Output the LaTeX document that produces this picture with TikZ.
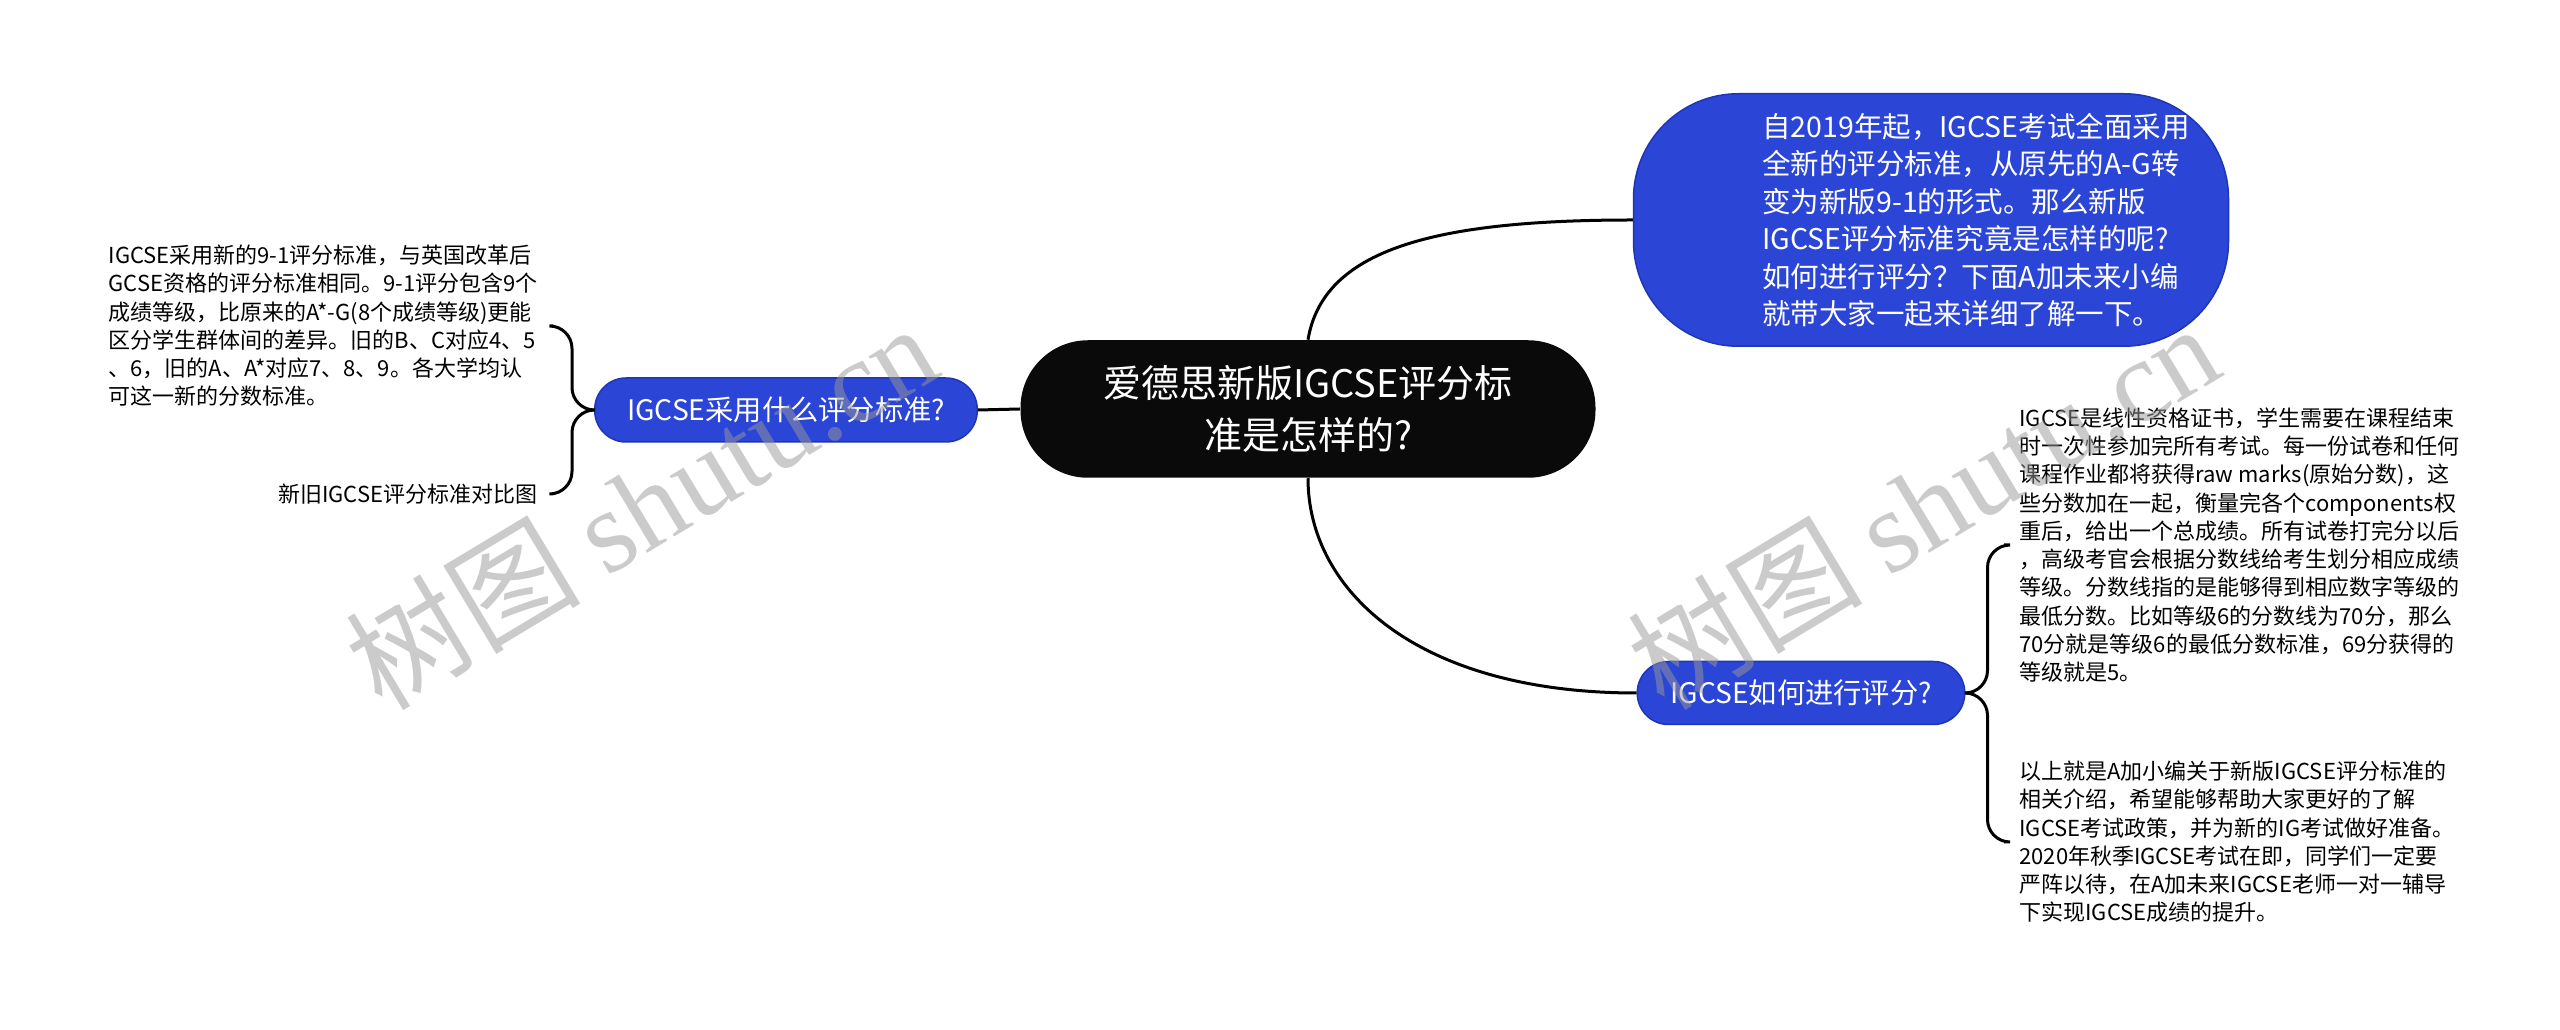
\documentclass[tikz,border=0pt]{standalone}
\usepackage{fontspec}
\setmainfont{Noto Sans CJK SC}
\newfontfamily\wmfont{Liberation Serif}
\usepackage{xcolor}
\definecolor{mapblue}{HTML}{2B45D7}
\definecolor{mapedge}{HTML}{1E35B5}
\definecolor{hubblack}{HTML}{0A0A0A}
\tikzset{
  hubnode/.style={fill=hubblack, text=white, rounded corners=27pt, minimum width=230pt,
    minimum height=55pt, align=center, font=\fontsize{15.2}{20.8}\selectfont},
  topicnode/.style={fill=mapblue, draw=mapedge, line width=0.6pt, text=white, align=center,
    font=\fontsize{11.3}{15}\selectfont},
  leafnode/.style={align=left, inner xsep=6pt, inner ysep=2pt, font=\fontsize{8.8}{11.3}\selectfont},
  link/.style={line width=1.2pt},
  wmark/.style={text=black!40, opacity=0.5, rotate=31, font=\fontsize{47}{47}\selectfont}
}

\begin{document}
\begin{tikzpicture}[x=0.4pt, y=-0.4pt]
        \useasboundingbox (0,0) rectangle (2560,1030);
        \fill[white] (0,0) rectangle (2560,1030);

        % Centre topic
        \node[hubnode] (hub) at (1308,409) {爱德思新版IGCSE评分标\\准是怎样的?};

        % Intro bubble, top right
        \node[topicnode, rounded corners=42pt, minimum width=238pt, minimum height=101pt] (intro) at (1931,220) {};
        \node[text=white, align=left, font=\fontsize{11.4}{15}\selectfont] (introtext) at ([xshift=18pt]intro.center)
          {自2019年起，IGCSE考试全面采用\\全新的评分标准，从原先的A-G转\\变为新版9-1的形式。那么新版\\IGCSE评分标准究竟是怎样的呢?\\如何进行评分？下面A加未来小编\\就带大家一起来详细了解一下。};

        % Left branch
        \node[topicnode, rounded corners=12.5pt, minimum width=153pt, minimum height=25.6pt] (q1) at (786,410) {IGCSE采用什么评分标准?};
        \node[leafnode, anchor=east] (d1) at (553,326)
          {IGCSE采用新的9-1评分标准，与英国改革后\\GCSE资格的评分标准相同。9-1评分包含9个\\成绩等级，比原来的A*-G(8个成绩等级)更能\\区分学生群体间的差异。旧的B、C对应4、5\\、6，旧的A、A*对应7、8、9。各大学均认\\可这一新的分数标准。};
        \node[leafnode, anchor=east] (d2) at (553,494) {新旧IGCSE评分标准对比图};

        % Right branch
        \node[topicnode, rounded corners=12.5pt, minimum width=131pt, minimum height=25.2pt] (q2) at (1801,693) {IGCSE如何进行评分?};
        \node[leafnode, anchor=west] (r1) at (2004,545)
          {IGCSE是线性资格证书，学生需要在课程结束\\时一次性参加完所有考试。每一份试卷和任何\\课程作业都将获得raw marks(原始分数)，这\\些分数加在一起，衡量完各个components权\\重后，给出一个总成绩。所有试卷打完分以后\\，高级考官会根据分数线给考生划分相应成绩\\等级。分数线指的是能够得到相应数字等级的\\最低分数。比如等级6的分数线为70分，那么\\70分就是等级6的最低分数标准，69分获得的\\等级就是5。};
        \node[leafnode, anchor=west] (r2) at (2004,842)
          {以上就是A加小编关于新版IGCSE评分标准的\\相关介绍，希望能够帮助大家更好的了解\\IGCSE考试政策，并为新的IG考试做好准备。\\2020年秋季IGCSE考试在即，同学们一定要\\严阵以待，在A加未来IGCSE老师一对一辅导\\下实现IGCSE成绩的提升。};

        % Connectors from the centre
        \draw[link] (hub.north) .. controls +(15,-90) and +(-200,0) .. (intro.west);
        \draw[link] (hub.south) .. controls +(0,112) and +(-220,0) .. (q2.west);
        \draw[link] (hub.west) -- (q1.east);

        % Brackets to the leaves
        \draw[link, rounded corners=9pt] (q1.west) -- ++(-22,0) |- (d1.east);
        \draw[link, rounded corners=9pt] (q1.west) -- ++(-22,0) |- (d2.east);
        \draw[link, rounded corners=9pt] (q2.east) -- ++(22,0) |- (r1.west);
        \draw[link, rounded corners=9pt] (q2.east) -- ++(22,0) |- (r2.west);

        % Watermarks
        \node[wmark] (wm1) at (641,505) {树图 {\wmfont shutu.cn}};
        \node[wmark] (wm2) at (1923,505) {树图 {\wmfont shutu.cn}};
    \end{tikzpicture}
\end{document}
